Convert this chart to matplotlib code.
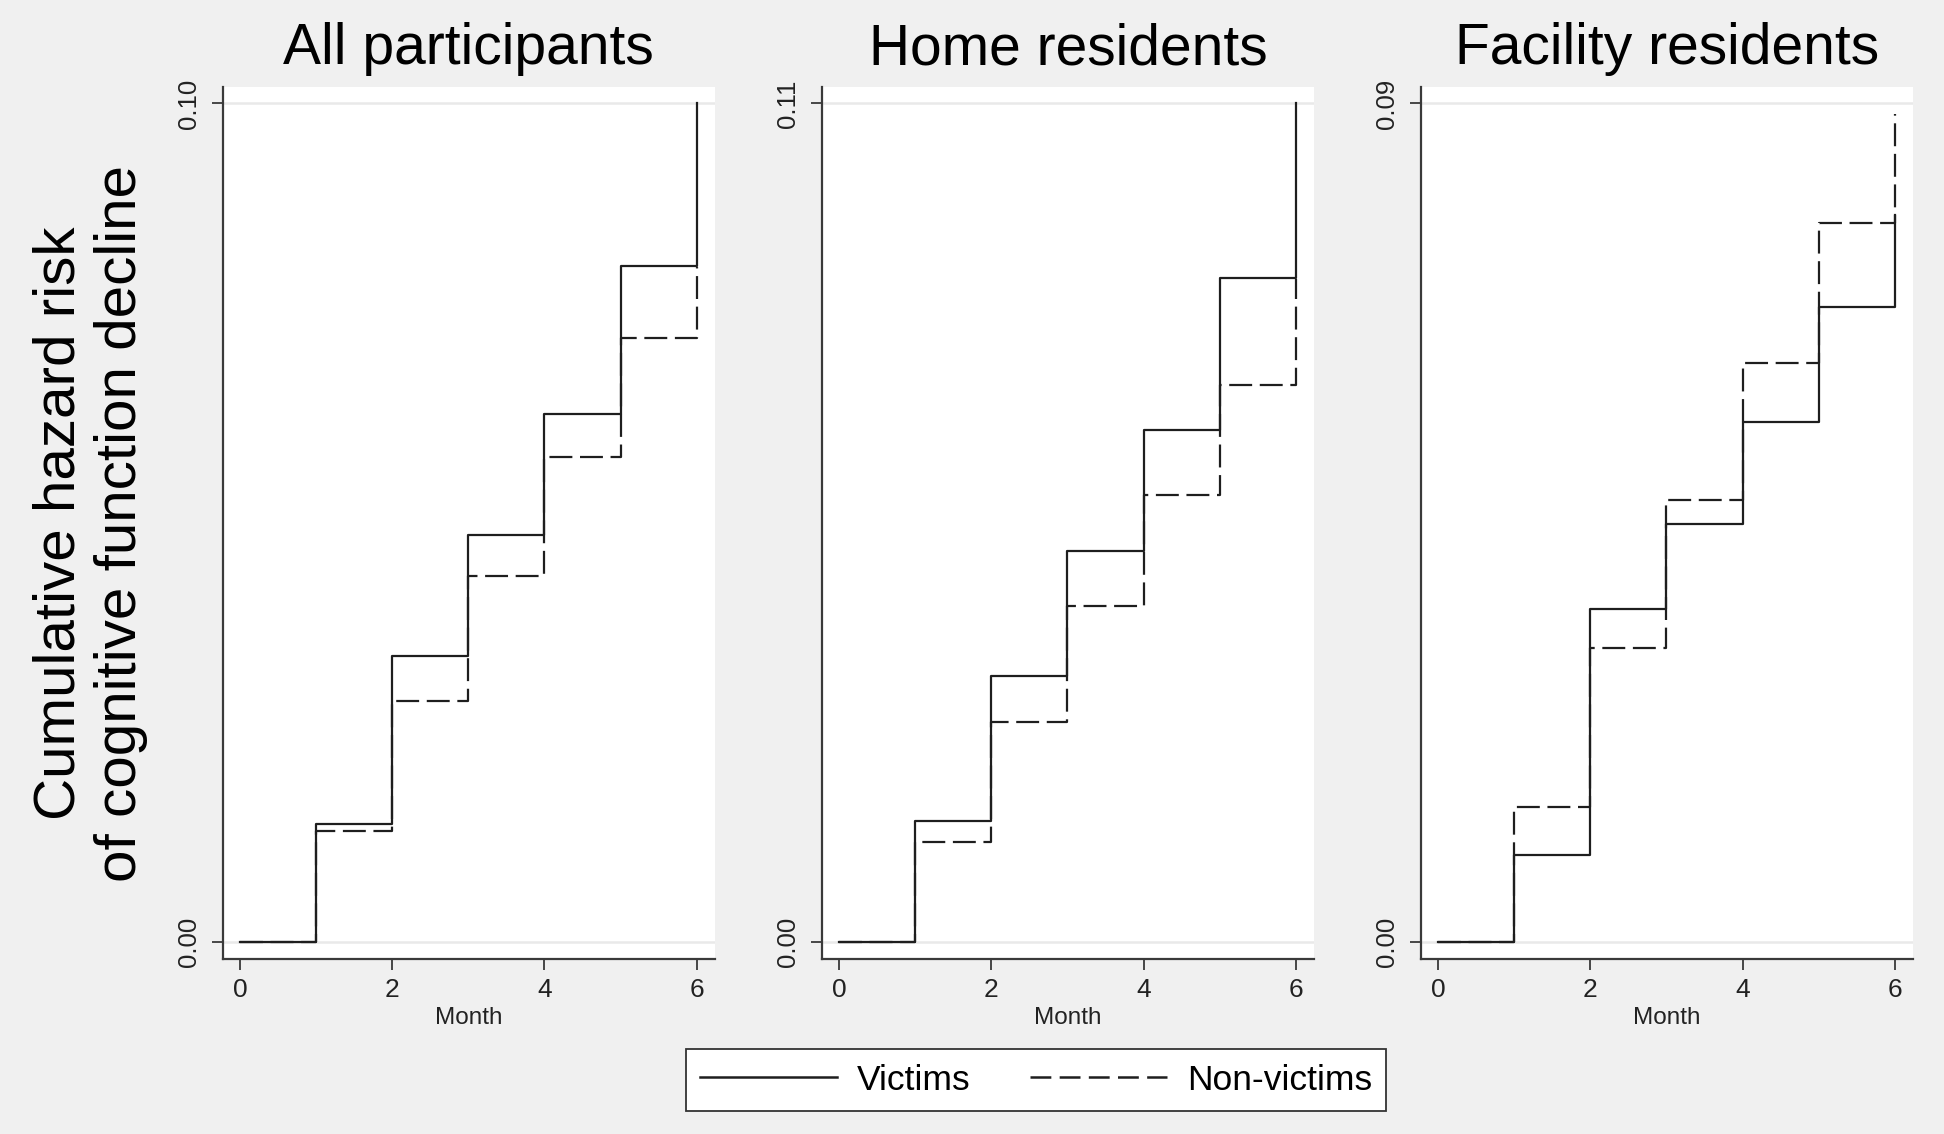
import numpy as np
import matplotlib
matplotlib.use('Agg')
import matplotlib.pyplot as plt
from matplotlib.lines import Line2D

plt.rcParams['font.family'] = ['Liberation Sans', 'DejaVu Sans']
plt.rcParams['lines.scale_dashes'] = False

# 数据
months = [0, 1, 2, 3, 4, 5, 6]
panel_titles = ['All participants', 'Home residents', 'Facility residents']
y_top = [0.10, 0.11, 0.09]
y_ticklabels = [['0.00', '0.10'], ['0.00', '0.11'], ['0.00', '0.09']]

victims_all = [0, 0.0141, 0.0341, 0.0485, 0.0629, 0.0806, 0.100]
nonvictims_all = [0, 0.0132, 0.0287, 0.0436, 0.0578, 0.0720, 0.0805]
victims_home = [0, 0.0159, 0.0349, 0.0513, 0.0672, 0.0871, 0.110]
nonvictims_home = [0, 0.0131, 0.0288, 0.0440, 0.0586, 0.0731, 0.0870]
victims_facility = [0, 0.0093, 0.0357, 0.0449, 0.0558, 0.0682, 0.0780]
nonvictims_facility = [0, 0.0145, 0.0315, 0.0474, 0.0621, 0.0772, 0.0889]

victims = [victims_all, victims_home, victims_facility]
nonvictims = [nonvictims_all, nonvictims_home, nonvictims_facility]

W, H = 1944, 1134
fig = plt.figure(figsize=(W / 100, H / 100), dpi=100, facecolor='#f0f0f0')

line_col = '#1e1e1e'
axis_col = '#3a3a3a'
grid_col = '#e9e9e9'
dash = (0, (16.5, 5.5))

# 三个面板的位置（像素）
lefts_px = [222.9, 822.0, 1421.0]
ax_w_px = 491.7
top_px, bottom_px = 86.7, 959.0

for k in range(3):
    ax = fig.add_axes([lefts_px[k] / W, 1 - bottom_px / H, ax_w_px / W, (bottom_px - top_px) / H])
    ax.set_facecolor('white')

    ax.step(months, victims[k], where='post', color=line_col, lw=1.6, zorder=3)
    ax.step(months, nonvictims[k], where='post', color=line_col, lw=1.6, linestyle=dash, zorder=3)

    top = y_top[k]
    ax.set_ylim(-0.0206 * top, 1.020 * top)
    ax.set_xlim(-0.225, 6.236)

    ax.set_yticks([0, top])
    ax.set_yticklabels(y_ticklabels[k], rotation=90, va='center', fontsize=18.5, color='#222222')
    ax.set_xticks([0, 2, 4, 6])
    ax.set_xticklabels(['0', '2', '4', '6'], fontsize=19, color='#222222')
    ax.tick_params(axis='both', direction='out', length=8, width=1.3, color=axis_col)
    ax.tick_params(axis='y', pad=8)
    ax.tick_params(axis='x', pad=6)

    for yv in [0, top]:
        ax.axhline(yv, color=grid_col, lw=1.8, zorder=1)

    for s in ['top', 'right']:
        ax.spines[s].set_visible(False)
    for s in ['left', 'bottom']:
        ax.spines[s].set_color(axis_col)
        ax.spines[s].set_linewidth(1.6)

    ax.set_xlabel('Month', fontsize=17.5, labelpad=3, color='#222222')
    ax.set_title(panel_titles[k], fontsize=41, pad=16)

# 纵轴标题
fig.text(90 / W, 1 - 523 / H, 'Cumulative hazard risk\nof cognitive function decline',
         rotation=90, ha='center', va='center', fontsize=42, linespacing=1.17)

# 图例
handles = [Line2D([], [], color=line_col, lw=1.8),
           Line2D([], [], color=line_col, lw=1.8, linestyle=(0, (15, 6)))]
leg = fig.legend(handles, ['Victims', 'Non-victims'], loc='center',
                 bbox_to_anchor=(1036 / W, 1 - 1080 / H), ncol=2, fontsize=25.5,
                 frameon=True, fancybox=False, handlelength=3.87, handletextpad=0.57,
                 columnspacing=1.67, borderpad=0.4)
leg.get_frame().set_edgecolor('#333333')
leg.get_frame().set_linewidth(1.3)
leg.get_frame().set_facecolor('white')
leg.get_frame().set_alpha(1)

fig.savefig('out.png', dpi=100, facecolor=fig.get_facecolor())
